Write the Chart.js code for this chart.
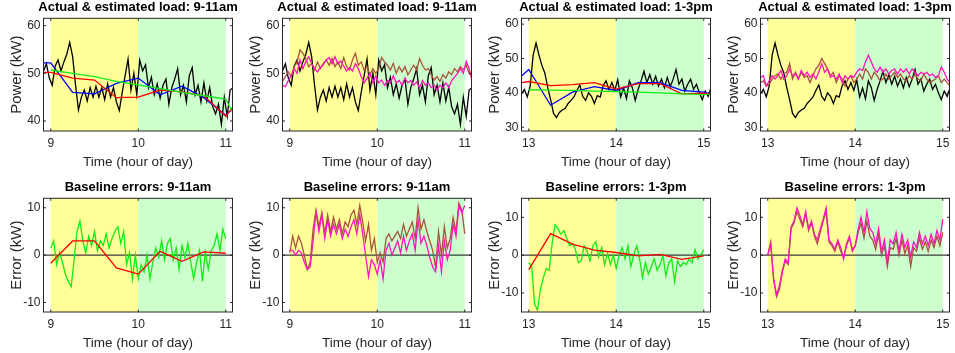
<!DOCTYPE html>
<html>
<head>
<meta charset="utf-8">
<script src="https://cdn.jsdelivr.net/npm/chart.js@4.4.1/dist/chart.umd.min.js"></script>
<style>
  body { margin: 0; background: #fff; }
  #wrap { position: relative; width: 955px; height: 353px; overflow: hidden; }
  #wrap canvas { position: absolute; }
</style>
</head>
<body>
<div id="wrap"></div>
<script>
// ---- tick labels ----
const amTicks = [9, 10, 11];
const pmTicks = [13, 14, 15];
const loadTicksAM = [40, 50, 60];
const loadTicksPM = [30, 40, 50, 60];
const errTicks = [-10, 0, 10];

// shaded hours (yellow = first hour, green = second hour)
const amShade = [9, 10, 11];
const pmShade = [13, 14, 15];

// ---- 9-11am ----
// 2-minute samples starting 8:55
const actualAM = [50.5, 52.0, 49.0, 47.5, 51.5, 52.8, 50.5, 52.4, 54.0, 56.5,
  53.5, 47.5, 42.3, 45.0, 46.5, 44.2, 47.0, 45.0, 47.3, 45.0,
  47.0, 44.5, 47.8, 45.0, 47.0, 44.0, 42.2, 46.0, 49.5, 53.0,
  46.5, 50.0, 45.5, 52.8, 50.5, 51.8, 47.0, 49.2, 45.5, 47.8,
  44.8, 47.5, 48.8, 43.5, 47.0, 48.8, 51.0, 45.5, 47.5, 44.0,
  49.5, 51.2, 45.5, 47.5, 44.0, 48.0, 44.2, 47.0, 43.0, 41.5,
  43.5, 39.3, 45.0, 41.0, 46.5, 47.0];
const brownAM = [48.3, 49.3, 50.3, 49.3, 51.4, 52.4, 54.9, 54.2, 53.1, 51.4,
  52.1, 50.7, 52.4, 51.0, 52.1, 52.8, 51.7, 53.1, 51.4, 52.4,
  51.0, 53.3, 51.4, 50.7, 52.8, 54.2, 51.7, 52.4, 50.7, 51.4,
  49.7, 51.0, 50.0, 51.0, 53.3, 52.4, 51.7, 50.7, 52.1, 50.0,
  51.4, 50.3, 51.4, 49.7, 50.7, 51.7, 50.7, 53.1, 51.7, 50.7,
  51.0, 49.7, 48.6, 49.3, 48.3, 49.7, 49.0, 50.3, 49.7, 51.0,
  50.3, 51.4, 50.7, 51.7, 50.0, 49.3];
const magentaAM = [47.5, 47.2, 48.5, 49.5, 51.0, 50.0, 52.8, 51.0, 52.5, 53.5,
  52.0, 51.0, 50.3, 51.2, 51.8, 52.8, 53.3, 52.0, 53.5, 52.0,
  52.6, 51.5, 50.5, 51.2, 50.5, 52.0, 51.0, 49.3, 48.0, 49.0,
  50.0, 48.0, 49.5, 48.0, 48.6, 47.5, 48.5, 48.0, 49.5, 48.0,
  48.5, 47.5, 49.0, 48.0, 48.5, 47.5, 48.2, 47.0, 48.5, 47.5,
  48.0, 47.0, 47.5, 46.5, 47.5, 47.0, 48.0, 47.0, 48.5, 49.2,
  50.0, 51.0, 50.0, 52.5, 51.0, 48.5];
// quarter-hour baselines
const knotHoursAM = [8.917, 9, 9.25, 9.5, 9.75, 10, 10.25, 10.5, 10.75, 11, 11.077];
const blueAM = [52.2, 52.2, 46.0, 45.7, 47.9, 49.0, 45.5, 47.3, 44.9, 41.2, 42.6];
const redAM = [50.2, 50.2, 49.0, 48.6, 44.9, 45.0, 46.5, 46.1, 45.3, 41.0, 42.8];
const greenHoursAM = [9, 9.25, 9.5, 9.75, 10, 10.25, 10.5, 10.75, 11, 11.077];
const greenAM = [50.7, 50.0, 49.3, 48.3, 47.6, 46.8, 46.0, 45.3, 44.6, 41.8];
// errors, 2-minute samples from 9:00
const errGreenAM = [1.5, 3.0, -2.0, 0.5, -1.5, -4.0, -5.5, -6.7, -1.0, 5.0,
  7.2, 3.0, 0.5, 4.0, 2.0, 5.0, 1.0, 3.0, 2.0, 4.5,
  1.5, 3.5, 5.0, 6.0, 2.5, 5.0, -2.0, 0.5, -5.0, 0.0,
  -5.0, -2.0, -3.5, 0.0, -5.0, -1.5, 1.5, -0.5, 3.0, -1.0,
  2.5, 3.5, -1.0, 1.5, -3.0, 2.0, -0.5, 2.5, -1.5, -5.0,
  -1.5, 1.0, -5.5, 0.5, -3.0, 1.0, 2.0, 4.5, 1.0, 5.5,
  3.5];
const errBrownAM = [0.5, 4.0, 1.5, 4.0, 2.5, 0.0, -3.0, -1.5, 5.5, 9.5,
  6.0, 9.0, 4.5, 8.5, 5.0, 8.0, 5.5, 7.5, 4.5, 7.0,
  6.0, 8.5, 9.5, 6.5, 10.5, 7.0, 3.0, 6.5, 1.0, 3.5,
  -1.5, 0.5, -1.5, 3.5, 4.5, 3.0, 4.0, 5.0, 3.5, 6.5,
  4.0, 5.5, 7.0, 3.5, 10.0, 5.5, 7.5, 5.0, 3.0, 1.0,
  -2.5, 5.0, 0.0, 6.0, 1.5, 3.5, 8.0, 5.0, 11.0, 9.5,
  4.5];
const errMagentaAM = [1.0, 1.0, 0.0, 1.0, 0.5, -1.5, -3.0, -2.5, 3.0, 9.0,
  5.0, 8.5, 3.5, 7.5, 4.0, 6.5, 4.5, 6.5, 3.5, 5.5,
  4.0, 6.0, 7.5, 4.5, 8.5, 4.5, 0.0, -4.5, -1.0, -2.0,
  -4.0, -1.0, -5.0, 1.0, 2.5, 0.0, 1.5, 3.0, 0.5, 4.0,
  1.0, 3.0, 4.5, 1.0, 7.5, 2.5, 4.0, 2.0, -0.5, -2.5,
  -3.5, 2.0, -3.5, 3.0, -1.0, 1.0, 6.5, 4.0, 10.5, 9.0,
  10.5];
const errKnotHoursAM = [9, 9.25, 9.5, 9.75, 10, 10.25, 10.5, 10.75, 11];
const errRedAM = [-1.7, 3.0, 3.0, -2.7, -4.0, 0.8, -1.3, 0.7, 0.4];

// ---- 1-3pm ----
const actualPM = [39.7, 41.0, 38.8, 42.0, 51.0, 54.5, 51.0, 48.0, 45.8, 41.6,
  38.0, 34.0, 32.8, 34.3, 35.0, 35.5, 36.9, 37.8, 38.8, 40.7,
  42.3, 39.0, 37.8, 40.0, 39.0, 36.9, 39.2, 38.8, 42.1, 43.5,
  41.0, 43.0, 40.7, 43.8, 38.8, 41.4, 38.3, 43.5, 41.5, 37.8,
  41.0, 43.5, 46.3, 43.0, 45.3, 42.5, 44.8, 42.0, 44.0, 41.5,
  44.5, 41.8, 44.0, 46.8, 42.5, 44.0, 40.5, 42.5, 44.0, 41.0,
  42.5, 40.0, 38.0, 40.5, 39.0, 41.5];
const brownPM = [43.0, 43.5, 42.0, 42.5, 44.0, 45.0, 45.5, 44.0, 45.5, 46.0,
  48.5, 44.0, 46.0, 44.0, 46.0, 44.5, 45.0, 43.0, 45.0, 47.0,
  48.0, 50.0, 48.5, 47.0, 45.0, 46.0, 43.0, 45.0, 44.0, 42.0,
  44.0, 45.0, 43.0, 44.0, 45.5, 44.0, 47.0, 46.0, 44.0, 46.0,
  45.0, 43.5, 44.0, 45.5, 44.0, 45.0, 46.0, 44.5, 45.5, 44.0,
  43.5, 45.0, 44.0, 45.5, 44.0, 43.5, 45.5, 44.0, 43.0, 43.5,
  44.0, 45.0, 43.0, 44.0, 43.0, 42.0];
const magentaPM = [44.5, 45.0, 42.0, 43.5, 45.0, 44.0, 45.0, 46.5, 44.0, 45.0,
  47.0, 45.0, 45.5, 44.0, 46.5, 45.0, 46.0, 44.5, 45.5, 44.0,
  46.0, 48.5, 46.0, 47.0, 44.5, 45.0, 44.0, 45.5, 43.0, 45.0,
  44.0, 45.0, 44.5, 46.0, 47.0, 46.5, 49.0, 51.0, 49.0, 47.0,
  46.0, 47.5, 46.0, 47.0, 45.5, 46.5, 47.0, 45.5, 47.0, 46.0,
  47.0, 45.5, 47.0, 46.0, 45.0, 46.0, 45.5, 46.0, 45.0, 45.5,
  44.5, 45.0, 47.5, 46.0, 44.0, 43.0];
const knotHoursPM = [12.917, 13, 13.25, 13.5, 13.75, 14, 14.25, 14.5, 14.75, 15, 15.077];
const bluePM = [44.9, 46.8, 36.4, 40.2, 41.8, 40.7, 43.0, 43.0, 40.7, 40.2, 39.7];
const redPM = [43.0, 43.3, 42.1, 42.4, 43.0, 41.1, 42.7, 42.7, 39.7, 39.9, 39.5];
const greenHoursPM = [13, 13.25, 13.5, 13.75, 14, 14.25, 14.5, 14.75, 15, 15.077];
const greenPM = [40.9, 40.8, 40.7, 40.5, 40.4, 40.2, 40.0, 39.7, 39.5, 39.7];
const errGreenPM = [-2.0, -3.0, -13.0, -14.5, -9.0, -6.0, -3.5, -4.0, 3.0, 8.0,
  7.0, 5.5, 6.5, 4.5, 2.5, 3.0, 1.5, -2.0, -1.5, 2.5,
  1.0, -1.5, 2.5, 3.5, -0.5, 2.0, -2.5, 0.5, -2.5, 0.0,
  -3.5, 0.0, 2.0, -1.0, 2.5, -3.0, 0.0, 2.5, -1.0, -6.0,
  -2.0, -5.0, -3.0, -1.0, -4.0, -2.5, 0.0, -5.5, -2.0, -1.0,
  -7.0, -1.5, -3.0, -2.0, -2.5, -1.0, -2.0, 1.5, -1.0, 0.0,
  1.5];
const errBrownPM = [0.0, 3.5, -6.5, -11.0, -9.0, -4.5, -1.5, -2.5, 7.0, 8.5,
  11.5, 9.5, 7.5, 11.0, 6.5, 8.5, 5.0, 3.0, 6.0, 9.0,
  11.5, 3.5, 2.5, 1.0, 3.5, 1.0, -0.5, 2.5, 4.5, 1.5,
  2.5, 6.0, 8.5, 4.5, 9.0, 5.0, 4.0, 1.5, 5.5, 0.0,
  2.5, -3.0, 2.0, 1.5, 4.5, 0.0, 4.0, 0.5, 2.5, -3.0,
  2.0, 1.0, 4.5, 1.5, 3.5, 1.0, 4.0, 2.0, 5.0, 2.5,
  6.0];
const errMagentaPM = [0.0, 3.0, -6.0, -10.5, -8.0, -4.0, -1.0, -2.0, 7.5, 9.0,
  12.5, 10.5, 8.0, 11.5, 7.0, 9.0, 5.5, 4.0, 7.0, 9.5,
  12.5, 4.0, 3.0, 1.5, 4.0, 2.0, -1.0, 3.0, 5.0, 1.0,
  2.5, 7.0, 10.0, 6.0, 11.5, 7.0, 6.0, 3.0, 7.0, 1.0,
  4.0, -2.0, 4.0, 3.0, 6.0, 1.0, 5.5, 2.0, 4.0, -0.5,
  3.5, 2.0, 6.0, 3.0, 5.0, 2.5, 5.5, 3.0, 6.5, 4.0,
  9.5];
const errKnotHoursPM = [13, 13.25, 13.5, 13.75, 14, 14.25, 14.5, 14.75, 15];
const errRedPM = [-3.8, 5.7, 2.9, 1.3, 0.7, -0.2, 0.2, -1.1, -0.2];

// ---- look ----
const FONT = '"Liberation Sans", Arial, Helvetica, sans-serif';
const AXIS_GREY = '#262626';
const BLACK = '#000000', BLUE = '#0000ff', RED = '#ff0000', GREEN = 'rgb(20,235,20)';
const BROWN = 'rgb(165,85,60)', MAGENTA = 'rgb(255,20,190)';
const SHADE = ['rgb(255,255,153)', 'rgb(204,255,204)'];

// time stamps for sampled series
function sampleHours(startHour, count, stepMin) {
    const out = [];
    for (let i = 0; i < count; i++) out.push(startHour + i * stepMin / 60);
    return out;
}

function series(hours, values, color) {
    return {
        data: values.map((v, i) => ({ x: hours[i], y: v })),
        borderColor: color,
        borderWidth: 1.3,
        pointRadius: 0,
        tension: 0,
        fill: false
    };
}

const tAM = sampleHours(8 + 55 / 60, actualAM.length, 2);
const tPM = sampleHours(12 + 55 / 60, actualPM.length, 2);
const tErrAM = sampleHours(9, errGreenAM.length, 2);
const tErrPM = sampleHours(13, errGreenPM.length, 2);

// shading, zero line, box, inward ticks and the title (MATLAB look)
const frame = {
    id: 'frame',
    beforeDatasetsDraw(chart, args, opts) {
        const { ctx, chartArea: a, scales: { x, y } } = chart;
        ctx.save();
        for (let i = 0; i < opts.shade.length - 1; i++) {
            const x0 = x.getPixelForValue(opts.shade[i]);
            const x1 = x.getPixelForValue(opts.shade[i + 1]);
            ctx.fillStyle = SHADE[i];
            ctx.fillRect(x0, a.top, x1 - x0, a.bottom - a.top);
        }
        if (opts.zero) {
            const y0 = y.getPixelForValue(0);
            ctx.strokeStyle = '#3a3a3a';
            ctx.lineWidth = 1.3;
            ctx.beginPath();
            ctx.moveTo(a.left, y0);
            ctx.lineTo(a.right, y0);
            ctx.stroke();
        }
        ctx.restore();
    },
    afterDatasetsDraw(chart, args, opts) {
        const { ctx, chartArea: a, scales: { x, y } } = chart;
        ctx.save();
        ctx.strokeStyle = AXIS_GREY;
        ctx.lineWidth = 1;
        ctx.strokeRect(a.left, a.top, a.right - a.left, a.bottom - a.top);
        ctx.beginPath();
        const tl = 2.5;
        x.ticks.forEach(t => {
            const px = x.getPixelForValue(t.value);
            ctx.moveTo(px, a.bottom); ctx.lineTo(px, a.bottom - tl);
            ctx.moveTo(px, a.top); ctx.lineTo(px, a.top + tl);
        });
        y.ticks.forEach(t => {
            const py = y.getPixelForValue(t.value);
            ctx.moveTo(a.left, py); ctx.lineTo(a.left + tl, py);
            ctx.moveTo(a.right, py); ctx.lineTo(a.right - tl, py);
        });
        ctx.stroke();
        ctx.restore();
    },
    afterDraw(chart, args, opts) {
        const { ctx, chartArea: a } = chart;
        ctx.save();
        ctx.font = 'bold 13px ' + FONT;
        ctx.fillStyle = '#000';
        ctx.textAlign = 'center';
        ctx.textBaseline = 'middle';
        ctx.fillText(opts.title, (a.left + a.right) / 2, opts.titleY);
        ctx.restore();
    }
};

// per-row geometry of the subplot grid
const rowGeom = [
    { top: 0, h: 176, boxTop: 18.3, boxBottom: 131, titleY: 7.5, xTitlePad: 5.2 },
    { top: 176, h: 177, boxTop: 22.3, boxBottom: 136, titleY: 11.5, xTitlePad: 1.9 }
];
const colLeft = [0, 239, 478, 717];
const CANVAS_W = 246;
const AXIS_W = 43.5;
const AREA_RIGHT = 232.5;

const panels = [
    { row: 0, col: 0, title: 'Actual & estimated load: 9-11am', yTitle: 'Power (kW)',
      x: [8.917, 11.077], y: [37.9, 61.55], xt: amTicks, yt: loadTicksAM, shade: amShade,
      sets: [series(greenHoursAM, greenAM, GREEN), series(knotHoursAM, redAM, RED),
             series(knotHoursAM, blueAM, BLUE), series(tAM, actualAM, BLACK)] },
    { row: 0, col: 1, title: 'Actual & estimated load: 9-11am', yTitle: 'Power (kW)',
      x: [8.917, 11.077], y: [37.9, 61.55], xt: amTicks, yt: loadTicksAM, shade: amShade,
      sets: [series(tAM, magentaAM, MAGENTA), series(tAM, brownAM, BROWN), series(tAM, actualAM, BLACK)] },
    { row: 0, col: 2, title: 'Actual & estimated load: 1-3pm', yTitle: 'Power (kW)',
      x: [12.917, 15.077], y: [28.9, 61.7], xt: pmTicks, yt: loadTicksPM, shade: pmShade,
      sets: [series(greenHoursPM, greenPM, GREEN), series(knotHoursPM, redPM, RED),
             series(knotHoursPM, bluePM, BLUE), series(tPM, actualPM, BLACK)] },
    { row: 0, col: 3, title: 'Actual & estimated load: 1-3pm', yTitle: 'Power (kW)',
      x: [12.917, 15.077], y: [28.9, 61.7], xt: pmTicks, yt: loadTicksPM, shade: pmShade,
      sets: [series(tPM, magentaPM, MAGENTA), series(tPM, brownPM, BROWN), series(tPM, actualPM, BLACK)] },
    { row: 1, col: 0, title: 'Baseline errors: 9-11am', yTitle: 'Error (kW)', zero: true,
      x: [8.917, 11.077], y: [-12, 12], xt: amTicks, yt: errTicks, shade: amShade,
      sets: [series(errKnotHoursAM, errRedAM, RED), series(tErrAM, errGreenAM, GREEN)] },
    { row: 1, col: 1, title: 'Baseline errors: 9-11am', yTitle: 'Error (kW)', zero: true,
      x: [8.917, 11.077], y: [-12, 12], xt: amTicks, yt: errTicks, shade: amShade,
      sets: [series(tErrAM, errMagentaAM, MAGENTA), series(tErrAM, errBrownAM, BROWN)] },
    { row: 1, col: 2, title: 'Baseline errors: 1-3pm', yTitle: 'Error (kW)', zero: true,
      x: [12.917, 15.077], y: [-15, 15], xt: pmTicks, yt: errTicks, shade: pmShade,
      sets: [series(errKnotHoursPM, errRedPM, RED), series(tErrPM, errGreenPM, GREEN)] },
    { row: 1, col: 3, title: 'Baseline errors: 1-3pm', yTitle: 'Error (kW)', zero: true,
      x: [12.917, 15.077], y: [-15, 15], xt: pmTicks, yt: errTicks, shade: pmShade,
      sets: [series(tErrPM, errMagentaPM, MAGENTA), series(tErrPM, errBrownPM, BROWN)] }
];

function makePanel(p) {
    const g = rowGeom[p.row];
    const cv = document.createElement('canvas');
    cv.width = CANVAS_W;
    cv.height = g.h;
    cv.style.left = colLeft[p.col] + 'px';
    cv.style.top = g.top + 'px';
    document.getElementById('wrap').appendChild(cv);

    new Chart(cv.getContext('2d'), {
        type: 'line',
        data: { datasets: p.sets },
        plugins: [frame],
        options: {
            responsive: false,
            animation: false,
            devicePixelRatio: 1,
            layout: { padding: { top: g.boxTop, right: CANVAS_W - AREA_RIGHT, bottom: 0, left: 0 } },
            plugins: {
                legend: { display: false },
                tooltip: { enabled: false },
                frame: { title: p.title, titleY: g.titleY, shade: p.shade, zero: !!p.zero }
            },
            scales: {
                x: {
                    type: 'linear',
                    min: p.x[0],
                    max: p.x[1],
                    afterBuildTicks: s => { s.ticks = p.xt.map(v => ({ value: v })); },
                    afterFit: s => { s.height = g.h - g.boxBottom; },
                    grid: { display: false, drawTicks: false },
                    border: { display: false },
                    ticks: { padding: 5.5, maxRotation: 0, color: AXIS_GREY, font: { family: FONT, size: 12 } },
                    title: { display: true, text: 'Time (hour of day)', color: AXIS_GREY,
                             font: { family: FONT, size: 13.5 }, padding: { top: 0, bottom: g.xTitlePad } }
                },
                y: {
                    type: 'linear',
                    min: p.y[0],
                    max: p.y[1],
                    afterBuildTicks: s => { s.ticks = p.yt.map(v => ({ value: v })); },
                    afterFit: s => { s.width = AXIS_W; },
                    grid: { display: false, drawTicks: false },
                    border: { display: false },
                    ticks: { padding: 3, color: AXIS_GREY, font: { family: FONT, size: 12 } },
                    title: { display: true, text: p.yTitle, color: AXIS_GREY,
                             font: { family: FONT, size: 15 }, padding: { top: 7.7, bottom: 0 } }
                }
            }
        }
    });
}

panels.forEach(makePanel);
</script>
</body>
</html>
